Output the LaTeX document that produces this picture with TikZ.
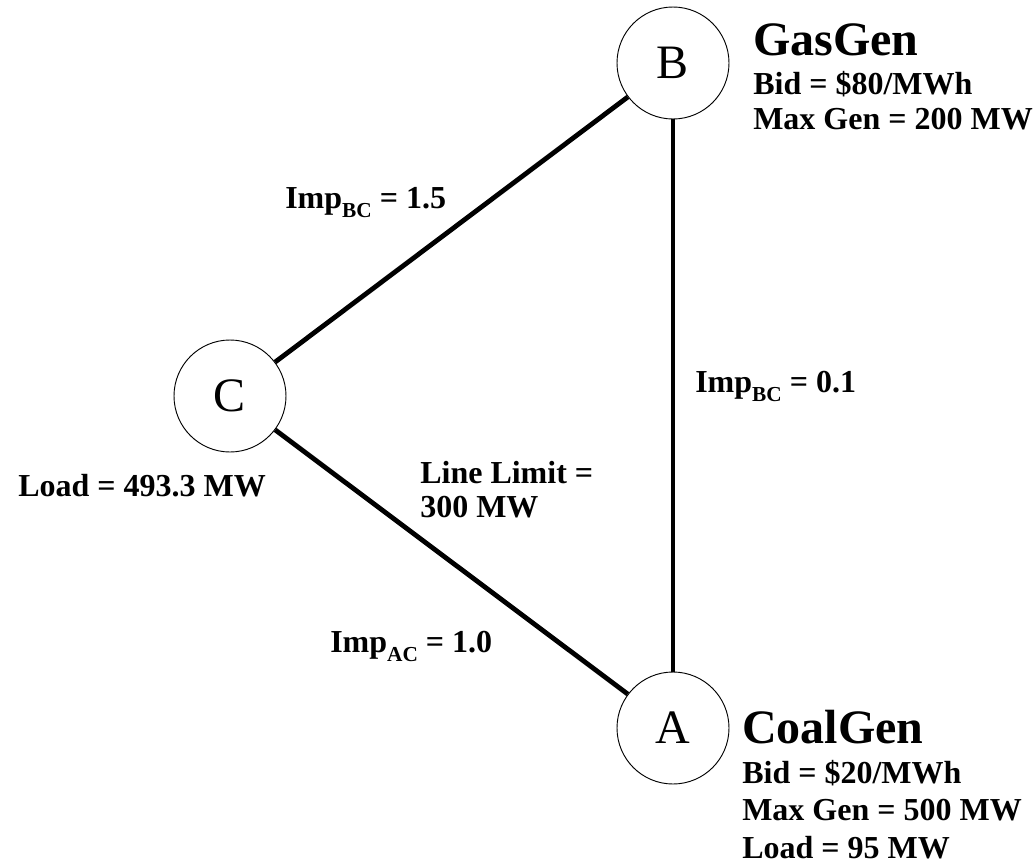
\documentclass[tikz,border=0pt]{standalone}
\usepackage{fontspec}
\setmainfont{Liberation Serif}
\usepackage{tikz}
\newcommand{\drawline}{\draw[line width=3.6pt]}
\newcommand{\info}[3]{\node[infotext] (#1) at (#2) {#3};}
\newcommand{\lowsub}[1]{\raisebox{-7pt}{\fontsize{16}{16}\selectfont #1}}
\tikzset{
  bus/.style={draw, circle, line width=0.7pt, minimum size=84pt, inner sep=0pt,
    font=\fontsize{36}{36}\selectfont},
  gentitle/.style={anchor=base west, inner sep=0pt, font=\bfseries\fontsize{36}{36}\selectfont},
  infotext/.style={anchor=base west, inner sep=0pt, font=\bfseries\fontsize{24}{24}\selectfont}
}

\begin{document}
\begin{tikzpicture}[x=0.75pt,y=-0.75pt]
\useasboundingbox (0,0) rectangle (1036,864);
\node[bus] (B) at (673,63) {B};
\node[bus] (A) at (673,728) {A};
\node[bus] (C) at (230,396) {C};
\drawline (B) -- (C);
\drawline (B) -- (A);
\drawline (C) -- (A);
% generator B
\node[gentitle] (gasgen) at (753,55) {GasGen};
\info{gasbid}{753,94}{Bid = \$80/MWh}
\info{gasmax}{753,129}{Max Gen = 200 MW}
% generator A
\node[gentitle] (coalgen) at (742,743) {CoalGen};
\info{coalbid}{742,783}{Bid = \$20/MWh}
\info{coalmax}{742,820}{Max Gen = 500 MW}
\info{coalload}{742,858}{Load = 95 MW}
% load C
\info{cload}{18,496}{Load = 493.3 MW}
% lines
\info{impbc}{285,208}{Imp\lowsub{BC} = 1.5}
\info{impab}{695,392}{Imp\lowsub{BC} = 0.1}
\info{impac}{330,652}{Imp\lowsub{AC} = 1.0}
\info{limit1}{420,483}{Line Limit =}
\info{limit2}{420,517}{300 MW}
\end{tikzpicture}
\end{document}
